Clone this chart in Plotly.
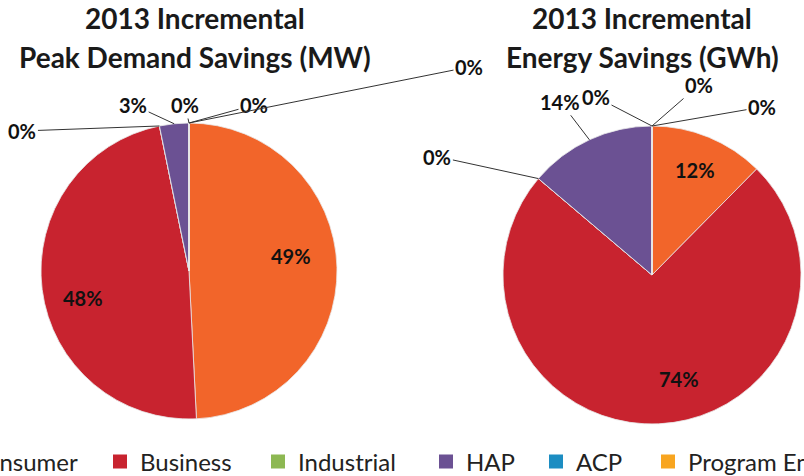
import math
import plotly.graph_objects as go

W, H = 804, 476

# ---- data (slice order is clockwise from 12 o'clock, as in the reference) ----
slice_labels = ["Demand Response", "Business", "Industrial", "HAP", "ACP", "Program Enabling", "Consumer"]
peak_demand_pct = [49.2, 47.6, 0, 3.2, 0, 0, 0]      # 2013 Incremental Peak Demand Savings (MW) share
energy_pct = [12.4, 73.8, 0, 13.8, 0, 0, 0]          # 2013 Incremental Energy Savings (GWh) share
legend_labels = ["Consumer", "Business", "Industrial", "HAP", "ACP", "Program Enabling"]
title_lines = [["2013 Incremental", "Peak Demand Savings (MW)"],
               ["2013 Incremental", "Energy Savings (GWh)"]]

# ---- styles ----
colors = {
    "Consumer": "#4F81BD",
    "Business": "#C8232F",
    "Industrial": "#8DB852",
    "HAP": "#6B5193",
    "ACP": "#1C8DC2",
    "Program Enabling": "#F8A520",
    "Demand Response": "#F2652A",
}
FONT = "Lato, 'Open Sans', sans-serif"
# pie geometry in pixels: centre x, centre y (from top), radius
pies = [(189, 271, 148), (652, 275, 149)]
title_centres = [195, 642]
title_line_y = [18, 57]
# radial position (fraction of radius) and angular nudge (deg) for inside labels
inside_pos = [{0: (0.70, -7), 1: (0.74, -7)}, {0: (0.76, 0), 1: (0.72, -12)}]
# outside-label offsets (px) from the slice anchor, for the small slices
small_offsets = [
    {2: (-137, 5), 3: (-41, -19), 4: (-4, -18), 5: (65, -18), 6: (280, -56)},
    {2: (-101, -22), 3: (-29, -38), 4: (-56, -29), 5: (47, -41), 6: (110, -19)},
]
legend_x_px = [-70, 100, 258, 426, 536, 648]
legend_y_px = 462

fig = go.Figure()
annotations = []

for k, (vals, (cx, cy, r)) in enumerate(zip([peak_demand_pct, energy_pct], pies)):
    dom_x = [(cx - r) / W, (cx + r) / W]
    dom_y = [1 - (cy + r) / H, 1 - (cy - r) / H]
    fig.add_trace(go.Pie(
        labels=slice_labels, values=vals, sort=False, direction="clockwise", rotation=0,
        domain=dict(x=dom_x, y=dom_y),
        marker=dict(colors=[colors[l] for l in slice_labels], line=dict(color="#e8e8e8", width=0.8)),
        textinfo="none", hoverinfo="label+percent", showlegend=False,
    ))
    total = sum(vals)
    cum = 0.0
    for i, v in enumerate(vals):
        a0 = cum / total * 360
        cum += v
        a1 = cum / total * 360
        mid_deg = (a0 + a1) / 2
        txt = f"{round(v / total * 100):.0f}%"
        if i in inside_pos[k]:
            frac, nudge = inside_pos[k][i]
            mid = math.radians(mid_deg + nudge)
            px = cx + frac * r * math.sin(mid)
            py = cy - frac * r * math.cos(mid)
            annotations.append(dict(x=px / W, y=1 - py / H, xref="paper", yref="paper",
                                    xanchor="center", yanchor="middle",
                                    text=f"<b>{txt}</b>", showarrow=False,
                                    font=dict(family=FONT, size=20, color="#111")))
        else:
            mid = math.radians(mid_deg)
            ax_, ay_ = small_offsets[k][i]
            px = cx + r * math.sin(mid)
            py = cy - r * math.cos(mid)
            annotations.append(dict(x=px / W, y=1 - py / H, xref="paper", yref="paper",
                                    text=f"<b>{txt}</b>", showarrow=True, arrowhead=0,
                                    arrowwidth=1, arrowcolor="#333", ax=ax_, ay=ay_,
                                    standoff=0,
                                    font=dict(family=FONT, size=20, color="#111")))
    for j, line in enumerate(title_lines[k]):
        annotations.append(dict(x=title_centres[k] / W, y=1 - title_line_y[j] / H,
                                xref="paper", yref="paper", xanchor="center", yanchor="middle",
                                text=f"<b>{line}</b>", showarrow=False,
                                font=dict(family=FONT, size=28, color="#1a1a1a")))

# legend entries (one small legend per entry so spacing can follow the reference)
layout_legends = {}
for i, lab in enumerate(legend_labels):
    lname = "legend" if i == 0 else f"legend{i + 1}"
    fig.add_trace(go.Scatter(x=[None], y=[None], mode="markers", name=lab, legend=lname,
                             marker=dict(symbol="square", size=14, color=colors[lab]),
                             showlegend=True, hoverinfo="skip"))
    layout_legends[lname] = dict(
        x=legend_x_px[i] / W, y=1 - legend_y_px / H, xref="paper", yref="paper",
        xanchor="left", yanchor="middle", orientation="h", bgcolor="rgba(0,0,0,0)",
        font=dict(family=FONT, size=24, color="#222"),
    )

fig.update_layout(
    width=W, height=H, paper_bgcolor="white", plot_bgcolor="white",
    margin=dict(l=0, r=0, t=0, b=0, autoexpand=False),
    xaxis=dict(visible=False), yaxis=dict(visible=False),
    annotations=annotations, **layout_legends,
)

fig.write_html("out.html", config={"displayModeBar": False},
               post_script="document.body.style.margin='0';document.body.style.overflow='hidden';")
